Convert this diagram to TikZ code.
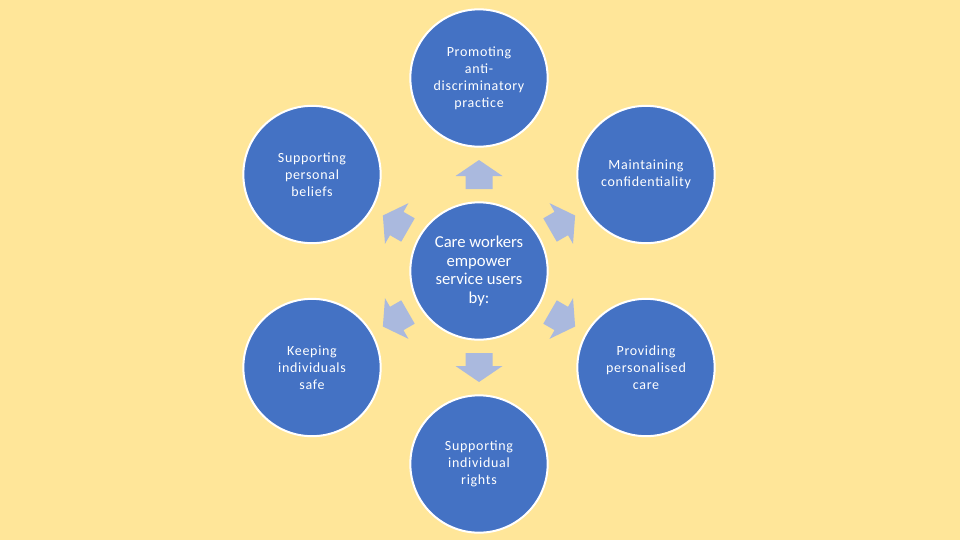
\documentclass[tikz,border=0pt]{standalone}
\usepackage{fontspec}
\setmainfont{Carlito}
\definecolor{bg}{RGB}{255,230,153}
\definecolor{circ}{RGB}{68,114,196}
\definecolor{arr}{RGB}{170,185,222}
\begin{document}
\begin{tikzpicture}[x=0.75pt,y=-0.75pt,
  bubble/.style={circle, fill=circ, draw=white, line width=1.5pt, minimum size=103pt, inner sep=0pt,
    text=white, align=center, font=\fontsize{10.5}{12.75}\selectfont\addfontfeature{LetterSpace=5}},
  hub/.style={bubble, font=\fontsize{12.5}{13.9}\selectfont},
  arrowshape/.style={fill=arr, draw=none}]
\fill[bg] (0,0) rectangle (960,540);
\node[hub] (c) at (479,271) {Care workers\\empower\\service users\\by:};
\node[bubble] (top) at (479,78) {Promoting\\anti-\\discriminatory\\practice};
\node[bubble] (ur) at (646,174.5) {Maintaining\\confidentiality};
\node[bubble] (lr) at (646,367.5) {Providing\\personalised\\care};
\node[bubble] (bot) at (479,464) {Supporting\\individual\\rights};
\node[bubble] (ll) at (312,367.5) {Keeping\\individuals\\safe};
\node[bubble] (ul) at (312,174.5) {Supporting\\personal\\beliefs};
\foreach \a in {90,30,-30,-90,-150,150}{
  \begin{scope}[shift={(c)}, rotate=\a]
    \fill[arrowshape] (82,-13.5) -- (95,-13.5) -- (95,-23.5) -- (111,0) -- (95,23.5) -- (95,13.5) -- (82,13.5) -- cycle;
  \end{scope}
}
\end{tikzpicture}
\end{document}
